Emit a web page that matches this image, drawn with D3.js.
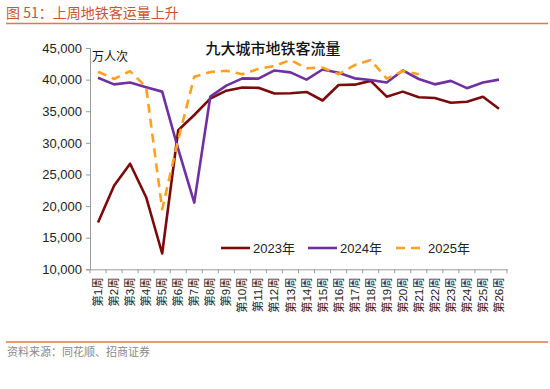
<!DOCTYPE html>
<html>
<head>
<meta charset="utf-8">
<script src="https://cdn.jsdelivr.net/npm/d3@7/dist/d3.min.js"></script>
<style>
  html, body { margin: 0; padding: 0; background: #fff; }
  svg { display: block; font-family: "Liberation Sans", Arial, "Noto Sans CJK SC", sans-serif; }
</style>
</head>
<body>
<svg id="chart" width="550" height="389"></svg>
<script>
const weeks = ["第1周","第2周","第3周","第4周","第5周","第6周","第7周","第8周","第9周","第10周","第11周","第12周","第13周","第14周","第15周","第16周","第17周","第18周","第19周","第20周","第21周","第22周","第23周","第24周","第25周","第26周"];
const y2023 = [17400, 23200, 26700, 21400, 12500, 32000, 34400, 37000, 38250, 38750, 38700, 37800, 37850, 38050, 36700, 39150, 39200, 39800, 37300, 38100, 37200, 37100, 36350, 36500, 37300, 35400];
const y2024 = [40300, 39250, 39550, 38800, 38100, 29000, 20550, 37300, 39050, 40200, 40150, 41450, 41150, 40000, 41600, 41100, 40200, 39950, 39550, 41450, 40100, 39250, 39800, 38650, 39550, 40000];
const y2025 = [41250, 40100, 41350, 38800, 19500, 30500, 40450, 41200, 41400, 40850, 41700, 42150, 43100, 41800, 41900, 40850, 42300, 43100, 40150, 41350, 40850];
const yTicks = [10000, 15000, 20000, 25000, 30000, 35000, 40000, 45000];
const seriesNames = ["2023年", "2024年", "2025年"];
const seriesColors = ["#7B0A0A", "#7030A0", "#FFA01E"];

const svg = d3.select("#chart");
const accent = "#E0784A";

// header
svg.append("text").attr("x", 6).attr("y", 18)
  .attr("font-family", "'Noto Sans CJK SC', sans-serif").attr("font-size", 14)
  .attr("fill", "#C8552E").text("图 51：上周地铁客运量上升");
svg.append("line").attr("x1", 6).attr("x2", 548).attr("y1", 23.5).attr("y2", 23.5)
  .attr("stroke", accent).attr("stroke-width", 1.5);
svg.append("line").attr("x1", 6).attr("x2", 548).attr("y1", 342).attr("y2", 342)
  .attr("stroke", accent).attr("stroke-width", 1.5);
svg.append("text").attr("x", 7).attr("y", 356)
  .attr("font-family", "'Noto Sans CJK SC', sans-serif").attr("font-size", 11)
  .attr("fill", "#8a8a8a").text("资料来源：同花顺、招商证券");

// scales
const x = d3.scaleBand().domain(weeks).range([90, 507]).padding(0);
const y = d3.scaleLinear().domain([10000, 45000]).range([269.3, 48]);
const cx = d => x(d) + x.bandwidth() / 2;

// y axis
const yAxis = svg.append("g").attr("transform", "translate(90,0)")
  .call(d3.axisLeft(y).tickValues(yTicks).tickFormat(d3.format(",")).tickSize(4).tickPadding(4));
yAxis.select(".domain").attr("stroke", "#9a9a9a");
yAxis.selectAll(".tick line").attr("stroke", "#9a9a9a");
yAxis.selectAll(".tick text").attr("font-size", 13).attr("fill", "#222")
  .attr("font-family", "'Liberation Sans', Arial, sans-serif");

// x axis
const xAxis = svg.append("g").attr("transform", `translate(0,${y(10000)})`)
  .call(d3.axisBottom(x).tickSize(0).tickPadding(0));
xAxis.select(".domain").attr("stroke", "#9a9a9a");
xAxis.selectAll(".tick text")
  .attr("font-size", 11.5).attr("fill", "#222")
  .attr("font-family", "'Liberation Sans', Arial, 'Noto Sans CJK SC', sans-serif")
  .attr("text-anchor", "end")
  .attr("transform", "translate(0,8) rotate(-90)")
  .attr("dx", 0).attr("dy", "0.35em").attr("y", 0).attr("x", 0);
// tick marks between categories
const edges = weeks.map(w => x(w)).concat([x(weeks[weeks.length - 1]) + x.bandwidth()]);
xAxis.selectAll(".edge").data(edges).enter().append("line")
  .attr("x1", d => d).attr("x2", d => d).attr("y1", 0).attr("y2", 4)
  .attr("stroke", "#9a9a9a");

// lines
const data = [y2023, y2024, y2025];
const line = d3.line().x((d, i) => cx(weeks[i])).y(d => y(d));
data.forEach((vals, k) => {
  const p = svg.append("path").datum(vals)
    .attr("fill", "none").attr("stroke", seriesColors[k]).attr("stroke-width", 2.6)
    .attr("stroke-linejoin", "round").attr("d", line);
  if (k === 2) p.attr("stroke-dasharray", "9,6");
});

// chart title and unit
svg.append("text").attr("x", 273).attr("y", 54).attr("text-anchor", "middle")
  .attr("font-family", "'Noto Sans CJK SC', sans-serif").attr("font-size", 15)
  .attr("font-weight", 500)
  .attr("fill", "#111").text("九大城市地铁客流量");
svg.append("text").attr("x", 92).attr("y", 61)
  .attr("font-family", "'Noto Sans CJK SC', sans-serif").attr("font-size", 12)
  .attr("fill", "#111").text("万人次");

// legend
const legX = [221, 308, 396];
seriesNames.forEach((name, k) => {
  const g = svg.append("g").attr("transform", `translate(${legX[k]},248)`);
  const l = g.append("line").attr("x1", 0).attr("x2", 29).attr("y1", 0).attr("y2", 0)
    .attr("stroke", seriesColors[k]).attr("stroke-width", 2.6);
  if (k === 2) l.attr("stroke-dasharray", "9,6");
  g.append("text").attr("x", 32).attr("y", 0).attr("dy", "0.36em")
    .attr("font-size", 13).attr("fill", "#222")
    .attr("font-family", "'Liberation Sans', Arial, 'Noto Sans CJK SC', sans-serif")
    .text(name);
});
</script>
</body>
</html>
